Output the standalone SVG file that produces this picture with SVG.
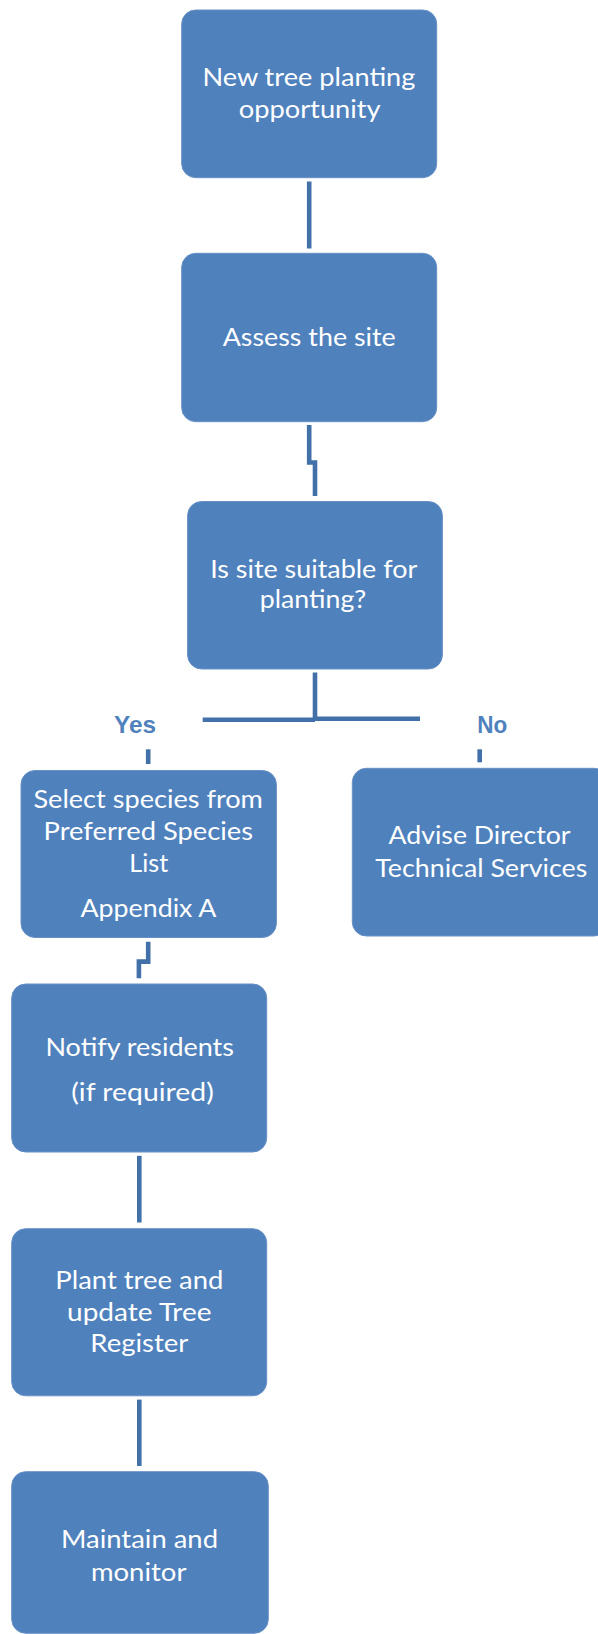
<svg xmlns="http://www.w3.org/2000/svg" width="598" height="1634" viewBox="0 0 598 1634">
<style>
.box{fill:#4F81BD;stroke:#6890C6;stroke-width:1}
.t{font-family:Lato,"Open Sans","Liberation Sans",sans-serif;font-size:25.5px;fill:#FFFFFF;text-anchor:middle}
.lbl{font-family:"Liberation Sans",Arial,sans-serif;font-weight:bold;font-size:24.5px;fill:#4F81BD;text-anchor:middle}
.c{fill:none;stroke:#4270A8;stroke-width:4.6;stroke-linejoin:miter;stroke-linecap:butt}
</style>
<rect width="598" height="1634" fill="#FFFFFF"/>
<g id="connectors">
<path class="c" d="M309.2 181.5 V248.5"/>
<path class="c" d="M309.2 425 V462.5 H315 V496"/>
<path class="c" d="M315 672.5 V719.5"/>
<path class="c" stroke-width="5.2" d="M202.7 719.7 H315"/>
<path class="c" stroke-width="5.2" d="M315 718.8 H420"/>
<path class="c" d="M148.2 749.3 V764"/>
<path class="c" d="M479.7 749.3 V762.3"/>
<path class="c" d="M148.2 941.7 V961.6 H138.9 V978.3"/>
<path class="c" d="M139.3 1155.8 V1222.5"/>
<path class="c" d="M139.3 1399.6 V1466"/>
</g>
<g id="labels">
<text class="lbl" x="135" y="732.7" textLength="42" lengthAdjust="spacingAndGlyphs">Yes</text>
<text class="lbl" x="492.3" y="732.7" textLength="30" lengthAdjust="spacingAndGlyphs">No</text>
</g>
<g id="n1">
<rect class="box" x="181.7" y="10" width="255" height="167.7" rx="14"/>
<text class="t" x="308.9" y="85.7" textLength="213" lengthAdjust="spacingAndGlyphs">New tree planting</text>
<text class="t" x="309.7" y="118.3" textLength="142" lengthAdjust="spacingAndGlyphs">opportunity</text>
</g>
<g id="n2">
<rect class="box" x="181.7" y="253.3" width="255" height="168.4" rx="14"/>
<text class="t" x="309.2" y="345.7" textLength="173" lengthAdjust="spacingAndGlyphs">Assess the site</text>
</g>
<g id="n3">
<rect class="box" x="187.6" y="501.5" width="254.8" height="167.5" rx="14"/>
<text class="t" x="313.7" y="578.3" textLength="207" lengthAdjust="spacingAndGlyphs">Is site suitable for</text>
<text class="t" x="313" y="608.3" textLength="106.5" lengthAdjust="spacingAndGlyphs">planting?</text>
</g>
<g id="n4">
<rect class="box" x="21" y="770.5" width="255.4" height="167" rx="14"/>
<text class="t" x="148.2" y="807.7" textLength="229.5" lengthAdjust="spacingAndGlyphs">Select species from</text>
<text class="t" x="148.3" y="840" textLength="209.5" lengthAdjust="spacingAndGlyphs">Preferred Species</text>
<text class="t" x="148.8" y="871.7" textLength="39" lengthAdjust="spacingAndGlyphs">List</text>
<text class="t" x="148.5" y="916.7" textLength="136" lengthAdjust="spacingAndGlyphs">Appendix A</text>
</g>
<g id="n5">
<rect class="box" x="352.3" y="768.3" width="256" height="167.7" rx="14"/>
<text class="t" x="479.5" y="844.3" textLength="182" lengthAdjust="spacingAndGlyphs">Advise Director</text>
<text class="t" x="481.3" y="876.7" textLength="212" lengthAdjust="spacingAndGlyphs">Technical Services</text>
</g>
<g id="n6">
<rect class="box" x="11.7" y="984" width="255" height="168" rx="14"/>
<text class="t" x="139.7" y="1055.8" textLength="188.5" lengthAdjust="spacingAndGlyphs">Notify residents</text>
<text class="t" x="142.5" y="1100.8" textLength="142.5" lengthAdjust="spacingAndGlyphs">(if required)</text>
</g>
<g id="n7">
<rect class="box" x="11.7" y="1228.7" width="255" height="167.1" rx="14"/>
<text class="t" x="139.3" y="1289" textLength="168" lengthAdjust="spacingAndGlyphs">Plant tree and</text>
<text class="t" x="139.3" y="1320.8" textLength="144.5" lengthAdjust="spacingAndGlyphs">update Tree</text>
<text class="t" x="139.3" y="1352" textLength="98" lengthAdjust="spacingAndGlyphs">Register</text>
</g>
<g id="n8">
<rect class="box" x="11.7" y="1471.7" width="256.6" height="161.6" rx="14"/>
<text class="t" x="139.5" y="1548.3" textLength="157" lengthAdjust="spacingAndGlyphs">Maintain and</text>
<text class="t" x="138.7" y="1581" textLength="95.5" lengthAdjust="spacingAndGlyphs">monitor</text>
</g>
</svg>
